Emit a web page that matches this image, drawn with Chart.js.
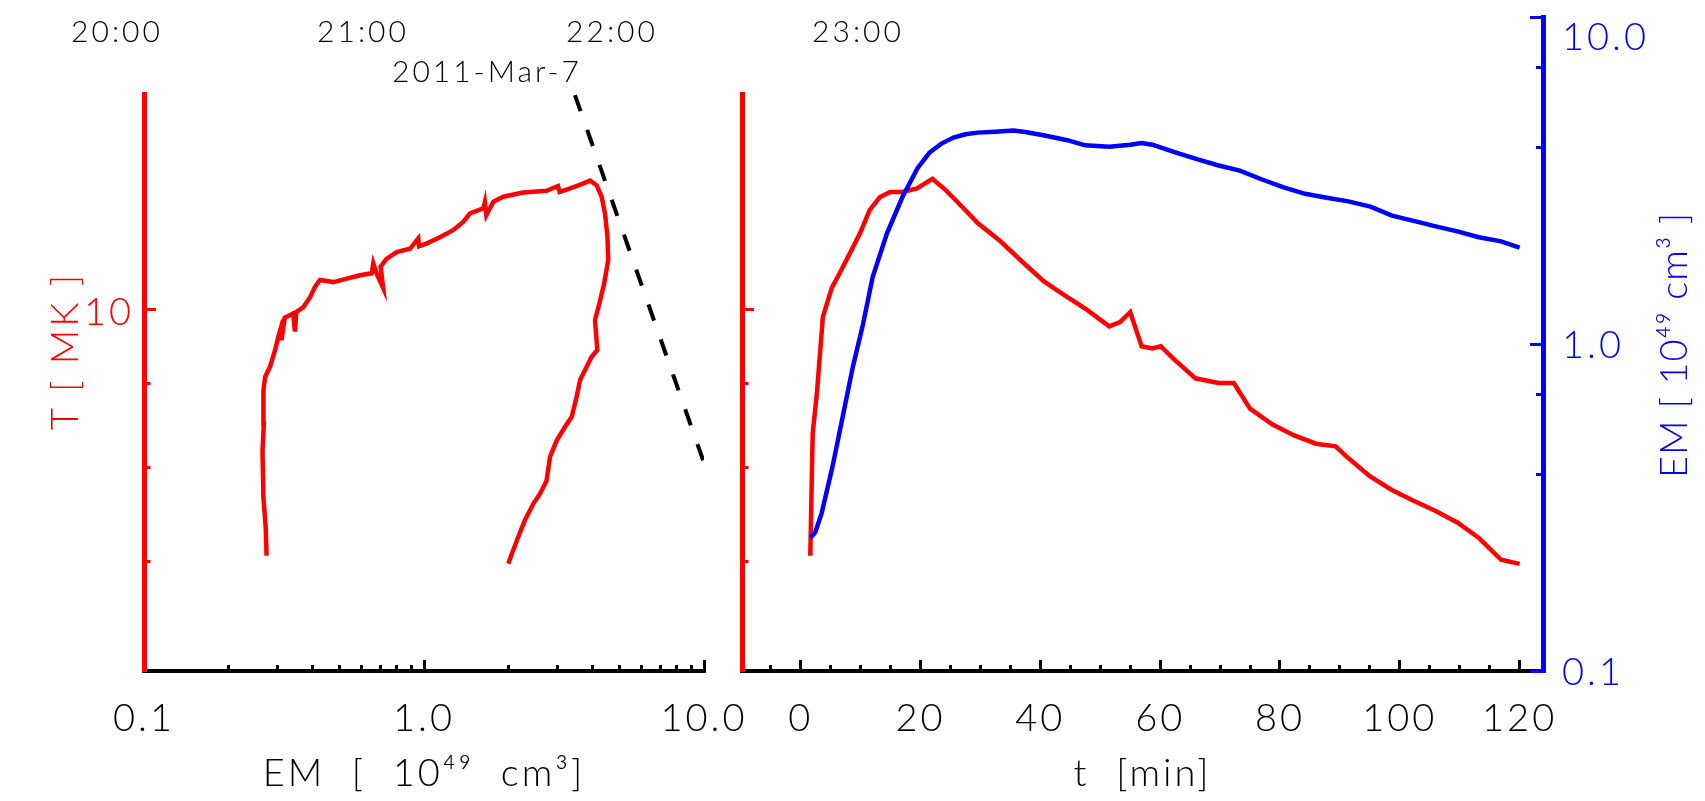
<!DOCTYPE html>
<html>
<head>
<meta charset="utf-8">
<script src="https://cdn.jsdelivr.net/npm/chart.js@4.4.1/dist/chart.umd.min.js"></script>
<style>
  body { margin: 0; background: #fff; }
  #wrap { position: relative; width: 1705px; height: 801px; }
  #wrap canvas { position: absolute; left: 0; top: 0; }
</style>
</head>
<body>
<div id="wrap">
  <canvas id="panelLoop" width="1705" height="801"></canvas>
  <canvas id="panelTemp" width="1705" height="801"></canvas>
  <canvas id="panelEm" width="1705" height="801"></canvas>
</div>
<script>
/* ---------- valores ---------- */

// panel izquierdo: T frente a EM (recorrido del flare)
var loopEm   = [0.274, 0.272, 0.267, 0.265, 0.268, 0.267, 0.271, 0.282, 0.294, 0.302, 0.314, 0.310, 0.318, 0.341, 0.346, 0.350,
                0.371, 0.392, 0.408, 0.425, 0.475, 0.530, 0.591, 0.650, 0.659, 0.680, 0.715, 0.700, 0.736, 0.799, 0.891,
                0.954, 0.960, 1.02, 1.14, 1.27, 1.38, 1.46, 1.63, 1.65, 1.67, 1.77, 1.92, 2.26, 2.74, 3.01, 3.05, 3.23,
                3.56, 3.92, 4.14, 4.31, 4.43, 4.52, 4.55, 4.40, 4.23, 4.08, 4.16, 3.97, 3.81,
                3.61, 3.51, 3.37, 3.19, 2.98, 2.82, 2.74, 2.60, 2.46, 2.29, 2.17, 2.06, 2.00];
var loopTemp = [7.06, 7.35, 7.67, 8.19, 8.51, 8.92, 9.09, 9.22, 9.44, 9.62, 9.85, 9.57, 9.88, 9.94, 9.69, 9.96,
                10.03, 10.17, 10.32, 10.42, 10.39, 10.44, 10.49, 10.52, 10.67, 10.50, 10.30, 10.62, 10.74, 10.84, 10.89,
                11.05, 10.93, 10.97, 11.07, 11.18, 11.31, 11.45, 11.53, 11.63, 11.42, 11.64, 11.72, 11.79, 11.82, 11.90, 11.80, 11.84,
                11.91, 11.99, 11.91, 11.72, 11.45, 11.08, 10.72, 10.37, 10.08, 9.85, 9.44, 9.35, 9.22,
                9.05, 8.84, 8.59, 8.47, 8.31, 8.12, 7.85, 7.71, 7.60, 7.42, 7.25, 7.08, 6.98];

// linea discontinua negra
var dashEm   = [3.46, 10.0];
var dashTemp = [13.53, 8.05];

// panel derecho: T(t) en rojo
var tempMinutes = [1.6, 1.8, 2.0, 2.7, 3.7, 5.2, 6.5, 8.2, 9.9, 11.5, 13.2, 14.9, 17.0, 19.4, 22.0, 24.2, 26.0,
                   29.6, 33.3, 36.9, 40.6, 44.2, 47.8, 51.5, 53.3, 55.0, 56.9, 58.7, 60.1, 62.3, 65.9, 69.7, 72.3,
                   75.0, 78.7, 82.3, 86.0, 89.3, 91.3, 95.0, 98.6, 102.3, 106.0, 109.6, 113.2, 116.9, 120.0];
var tempMK      = [7.06, 7.71, 8.39, 8.88, 9.89, 10.31, 10.52, 10.82, 11.13, 11.50, 11.71, 11.80, 11.80, 11.86, 12.02, 11.83, 11.65,
                   11.29, 11.01, 10.70, 10.40, 10.19, 9.99, 9.76, 9.82, 9.96, 9.49, 9.46, 9.49, 9.32, 9.07, 9.01, 9.01,
                   8.69, 8.50, 8.37, 8.27, 8.24, 8.11, 7.90, 7.75, 7.63, 7.52, 7.40, 7.24, 7.02, 6.98];

// panel derecho: EM(t) en azul
var emMinutes = [1.6, 2.4, 3.5, 5.3, 7.0, 8.7, 10.4, 12.0, 14.4, 17.0, 19.5, 21.5, 23.5, 25.5, 27.5, 29.5, 32.5, 35.5, 37.5, 40.5, 44.5, 47.5,
                 51.5, 55.0, 56.9, 58.7, 62.4, 66.0, 69.6, 73.3, 76.9, 80.5, 84.2, 87.8, 91.4, 95.1, 98.7, 102.3, 106.0, 109.6, 113.2, 116.9, 120.0];
var emValues  = [0.255, 0.265, 0.304, 0.421, 0.598, 0.851, 1.15, 1.60, 2.18, 2.82, 3.45, 3.85, 4.10, 4.28, 4.38, 4.43, 4.46, 4.50, 4.45, 4.35, 4.20, 4.05,
                 4.01, 4.07, 4.12, 4.07, 3.86, 3.68, 3.52, 3.39, 3.19, 3.02, 2.88, 2.80, 2.73, 2.63, 2.47, 2.38, 2.29, 2.21, 2.12, 2.06, 1.97];

// marcas de los ejes
var emTicks        = [0.1, 0.2, 0.3, 0.4, 0.5, 0.6, 0.7, 0.8, 0.9, 1, 2, 3, 4, 5, 6, 7, 8, 9, 10];
var emMajor        = [0.1, 1, 10];
var emTickLabels   = ['0.1', '', '', '', '', '', '', '', '', '1.0', '', '', '', '', '', '', '', '', '10.0'];
var emAxisLabels   = ['0.1', '', '', '', '', '', '', '', '', '1.0', '', '', '', '', '', '', '', '', ['', '10.0']];
var tempTicks      = [7, 8, 9, 10];
var tempMajor      = [10];
var tempTickLabels = ['', '', '', '10'];
var minuteTicks    = [-5, 0, 5, 10, 15, 20, 25, 30, 35, 40, 45, 50, 55, 60, 65, 70, 75, 80, 85, 90, 95, 100, 105, 110, 115, 120];
var minuteMajor    = [0, 20, 40, 60, 80, 100, 120];
var minuteTickLabels = ['', '0', '', '', '', '20', '', '', '', '40', '', '', '', '60', '', '', '', '80', '', '', '', '100', '', '', '', '120'];
var clockLabels    = ['20:00', '21:00', '22:00', '23:00'];
var dateLabel      = '2011-Mar-7';

/* ---------- ayudas ---------- */

var FONT = "Lato, 'Liberation Sans', sans-serif";
var ROJO = '#ff0000', AZUL = '#0000ff', NEGRO = '#000000';
var ESPACIADO = '3px';

Chart.defaults.font.family = FONT;
Chart.defaults.font.weight = '300';
Chart.defaults.animation = false;
Chart.defaults.events = [];
Chart.defaults.plugins.legend.display = false;
Chart.defaults.plugins.tooltip.enabled = false;

function puntos(xs, ys) {
	return xs.map(function (v, i) { return {x: v, y: ys[i]}; });
}

function marcasFijas(valores) {
	return function (scale) {
		scale.ticks = valores.map(function (v) { return {value: v}; });
	};
}

function etiquetas(textos) {
	return function (value, index) { return textos[index]; };
}

// fija el tamaño del eje para que el area del grafico quede donde debe
function tamanoEje(tam) {
	return function (scale) {
		if (scale.isHorizontal()) scale.height = tam; else scale.width = tam;
		scale.paddingTop = 0; scale.paddingBottom = 0;
		scale.paddingLeft = 0; scale.paddingRight = 0;
	};
}

// marcas menores mas cortas: se recorta el trazo con un patron de guiones
// borde: grosor del eje, largo: longitud de la marca (tickLength), menor: lo que asoma la menor
function marcasCortas(mayores, borde, largo, menor, desdeDentro) {
	return function (ctx) {
		if (!ctx.tick || mayores.indexOf(ctx.tick.value) >= 0) return [];
		if (desdeDentro) return [0, largo - borde / 2 - menor, 300];
		return [borde + menor, 300];
	};
}

var espaciado = {
	id: 'espaciado',
	beforeDraw: function (chart) { chart.ctx.letterSpacing = ESPACIADO; }
};

function textoLibre(id, items) {
	return {
		id: id,
		afterDraw: function (chart) {
			var ctx = chart.ctx;
			items.forEach(function (it) {
				ctx.save();
				ctx.translate(it.x, it.y);
				ctx.rotate(it.rot || 0);
				ctx.font = '300 ' + it.size + 'px ' + FONT;
				ctx.letterSpacing = it.spacing || ESPACIADO;
				ctx.fillStyle = it.color;
				ctx.textAlign = 'center';
				ctx.textBaseline = 'middle';
				ctx.fillText(it.text, 0, 0);
				ctx.restore();
			});
		}
	};
}

function ejeX(tipo, min, max, valores, mayores, textos, titulo) {
	return {
		type: tipo, min: min, max: max,
		afterBuildTicks: marcasFijas(valores),
		afterFit: tamanoEje(130),
		border: {color: NEGRO, width: 4},
		grid: {drawOnChartArea: false, tickLength: -11, color: NEGRO, tickWidth: 3,
			tickBorderDash: marcasCortas(mayores, 4, 11, 4, false)},
		ticks: {color: NEGRO, font: {size: 38}, padding: 36, maxRotation: 0, autoSkip: false, callback: etiquetas(textos)},
		title: {display: true, text: titulo, color: NEGRO, font: {size: 38}, padding: {top: 0, bottom: 4}}
	};
}

function ejeTemp(conEtiqueta) {
	return {
		type: 'logarithmic', position: 'left', min: 6, max: 13.55,
		afterBuildTicks: marcasFijas(tempTicks),
		afterFit: tamanoEje(conEtiqueta ? 144 : 742),
		border: {color: ROJO, width: 5},
		grid: {drawOnChartArea: false, tickLength: -12, color: ROJO, tickWidth: 3,
			tickBorderDash: marcasCortas(tempMajor, 5, 12, 4, true)},
		ticks: {color: ROJO, font: {size: 38}, padding: 22, labelOffset: 4,
			callback: conEtiqueta ? etiquetas(tempTickLabels) : function () { return ''; }},
		title: {display: conEtiqueta, text: '\u2003\u2003T [ MK ]', color: ROJO, font: {size: 38, lineHeight: 1.2}, padding: {top: 43, bottom: 0}}
	};
}

/* ---------- panel izquierdo ---------- */

new Chart(document.getElementById('panelLoop'), {
	type: 'scatter',
	data: {
		datasets: [{
			data: puntos(loopEm, loopTemp),
			showLine: true, borderColor: ROJO, borderWidth: 4.5, pointRadius: 0, tension: 0
		}, {
			data: puntos(dashEm, dashTemp),
			showLine: true, borderColor: NEGRO, borderWidth: 4, borderDash: [17, 20], pointRadius: 0
		}]
	},
	options: {
		responsive: false,
		devicePixelRatio: 1,
		layout: {padding: {top: 94, right: 1001, bottom: 0, left: 0}},
		scales: {
			x: ejeX('logarithmic', 0.1, 10, emTicks, emMajor, emTickLabels, 'EM  [  10\u2074\u2079  cm\u00b3]'),
			y: ejeTemp(true)
		}
	},
	plugins: [espaciado, textoLibre('rotulosHora', [
		{text: clockLabels[0], x: 117, y: 32, size: 30, color: NEGRO},
		{text: clockLabels[1], x: 363, y: 32, size: 30, color: NEGRO},
		{text: clockLabels[2], x: 612, y: 32, size: 30, color: NEGRO},
		{text: clockLabels[3], x: 858, y: 32, size: 30, color: NEGRO},
		{text: dateLabel, x: 487, y: 72, size: 30, color: NEGRO}
	])]
});

/* ---------- panel derecho: temperatura ---------- */

new Chart(document.getElementById('panelTemp'), {
	type: 'scatter',
	data: {
		datasets: [{
			data: puntos(tempMinutes, tempMK),
			showLine: true, borderColor: ROJO, borderWidth: 4.5, pointRadius: 0, tension: 0
		}]
	},
	options: {
		responsive: false,
		devicePixelRatio: 1,
		layout: {padding: {top: 94, right: 162, bottom: 0, left: 0}},
		scales: {
			x: ejeX('linear', -9.8, 123.9, minuteTicks, minuteMajor, minuteTickLabels, 't  [min]'),
			y: ejeTemp(false)
		}
	},
	plugins: [espaciado]
});

/* ---------- panel derecho: medida de emision ---------- */

new Chart(document.getElementById('panelEm'), {
	type: 'scatter',
	data: {
		datasets: [{
			data: puntos(emMinutes, emValues),
			showLine: true, borderColor: AZUL, borderWidth: 4.5, pointRadius: 0, tension: 0
		}]
	},
	options: {
		responsive: false,
		devicePixelRatio: 1,
		layout: {padding: {top: 17, right: 0, bottom: 130, left: 742}},
		scales: {
			x: {type: 'linear', min: -9.8, max: 123.9, display: false, afterFit: tamanoEje(0)},
			y: {
				type: 'logarithmic', position: 'right', min: 0.1, max: 10,
				afterBuildTicks: marcasFijas(emTicks),
				afterFit: tamanoEje(162),
				border: {color: AZUL, width: 5},
				grid: {drawOnChartArea: false, tickLength: -13, color: AZUL, tickWidth: 3,
					tickBorderDash: marcasCortas(emMajor, 5, 13, 5, false)},
				ticks: {color: AZUL, font: {size: 38, lineHeight: 1}, padding: 32, labelOffset: 2, callback: etiquetas(emAxisLabels)}
			}
		}
	},
	plugins: [espaciado, textoLibre('tituloEm', [
		{text: 'EM [ 10\u2074\u2079 cm\u00b3 ]', x: 1675, y: 345, size: 38, color: AZUL, rot: -Math.PI / 2, spacing: '1px'}
	])]
});
</script>
</body>
</html>
